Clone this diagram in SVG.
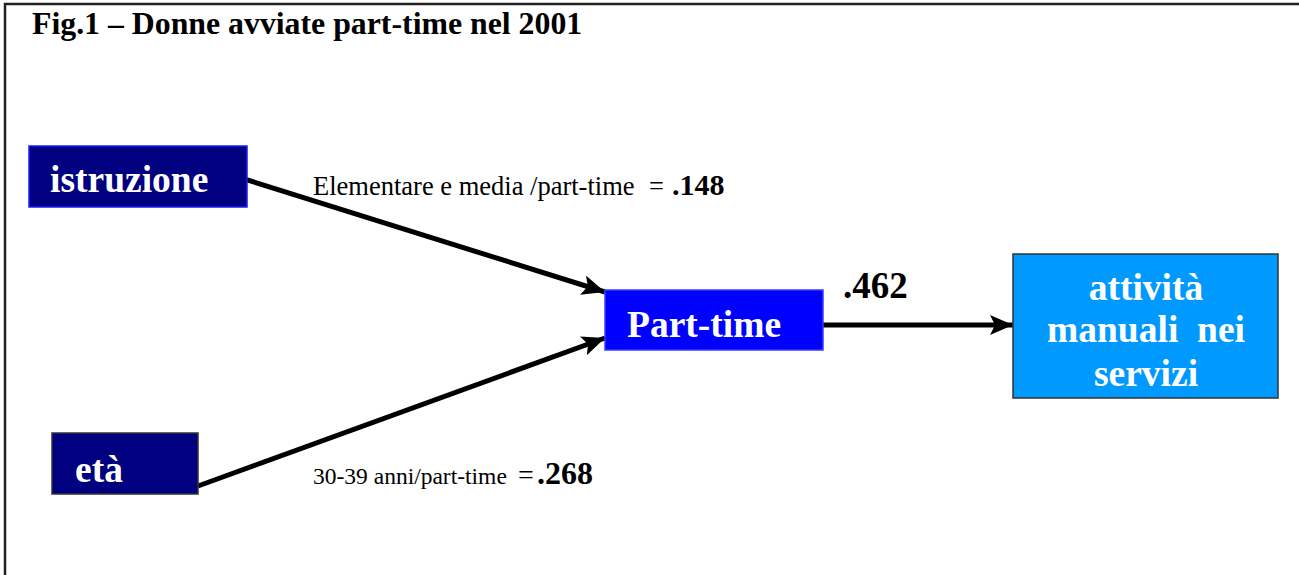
<svg xmlns="http://www.w3.org/2000/svg" width="1299" height="575" viewBox="0 0 1299 575">
<style>
.box{stroke-width:1.5}
.nt{font-family:"Liberation Serif",serif;font-weight:bold;fill:#fff;font-size:37.5px}
.lbl{font-family:"Liberation Serif",serif;fill:#000}
.b{font-weight:bold}
.conn{stroke:#000;stroke-width:5;fill:none}
</style>
<defs>
<marker id="ah" markerUnits="userSpaceOnUse" markerWidth="26" markerHeight="22" refX="23" refY="10" orient="auto">
<path d="M0,0 L23,10 L0,20 L5,10 Z" fill="#000"/>
</marker>
</defs>
<rect x="0" y="0" width="1299" height="575" fill="#fff"/>
<path d="M5,575 V4 H1299" fill="none" stroke="#222" stroke-width="2.5"/>
<text x="32" y="34" font-family="Liberation Serif,serif" font-weight="bold" font-size="31.8" fill="#000">Fig.1 – Donne avviate part-time nel 2001</text>
<g id="connectors">
<line class="conn" x1="222" y1="172" x2="605" y2="292" marker-end="url(#ah)"/>
<line class="conn" x1="198" y1="486" x2="605" y2="338" marker-end="url(#ah)"/>
<line class="conn" x1="823" y1="325" x2="1013" y2="325" marker-end="url(#ah)"/>
</g>
<g id="istruzione">
<rect class="box" x="29" y="146" width="218" height="61" fill="#000080" stroke="#1a1aff"/>
<text class="nt" x="50" y="192">istruzione</text>
</g>
<g id="eta">
<rect class="box" x="52" y="433" width="146" height="61" fill="#000080" stroke="#333"/>
<text class="nt" x="75" y="482">età</text>
</g>
<g id="parttime">
<rect class="box" x="605" y="290" width="218" height="60" fill="#0000ff" stroke="#3a3aff"/>
<text class="nt" x="627" y="337">Part-time</text>
</g>
<g id="attivita">
<rect class="box" x="1013" y="254" width="265" height="144" fill="#0099ff" stroke="#333"/>
<text class="nt" x="1146" y="300" text-anchor="middle">attività</text>
<text class="nt" x="1146" y="342" text-anchor="middle" xml:space="preserve">manuali  nei</text>
<text class="nt" x="1146" y="386" text-anchor="middle">servizi</text>
</g>
<g id="labels">
<text class="lbl" x="313" y="195" font-size="26.5">Elementare e media /part-time</text>
<text class="lbl" x="649" y="195" font-size="26.5">=</text>
<text class="lbl b" x="672" y="195" font-size="30">.148</text>
<text class="lbl" x="313" y="484" font-size="23.5">30-39 anni/part-time</text>
<text class="lbl" x="518" y="484" font-size="28">=</text>
<text class="lbl b" x="537" y="484" font-size="32">.268</text>
<text x="843" y="298" font-family="Liberation Serif,serif" font-weight="bold" font-size="37" fill="#000">.462</text>
</g>
</svg>
